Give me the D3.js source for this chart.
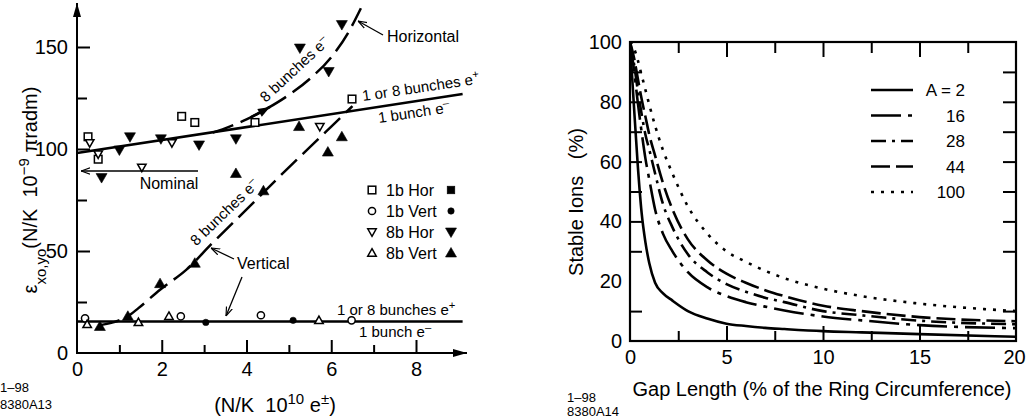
<!DOCTYPE html>
<html lang="en">
<head>
<meta charset="UTF-8">
<title>Emittance vs bunch current / Stable ions vs gap length</title>
<script src="https://d3js.org/d3.v7.min.js"></script>
<style>
  body { margin: 0; background: #fff; }
  svg { display: block; font-family: "Liberation Sans", Arial, sans-serif; }
  text { fill: #000; white-space: pre; }
  .tick line { stroke: #000; stroke-width: 2; }
  .tick text { font-size: 20px; }
</style>
</head>
<body>
<svg id="chart" width="1026" height="419"></svg>
<script>
// ---------- left panel: emittance vs N/K ----------
const emitXTicks = [0, 1, 2, 3, 4, 5, 6, 7, 8];
const emitYTicks = [0, 25, 50, 75, 100, 125, 150];

// measured points [N/K, emittance]
const hor1bOpen   = [[0.26, 106], [0.5, 95], [2.47, 116], [2.78, 113], [4.2, 113], [6.49, 124.5]];
const vert1bOpen  = [[0.19, 17], [2.45, 18], [4.34, 18.5], [6.48, 16]];
const vert1bFill  = [[3.04, 15], [5.1, 16]];
const hor8bOpen   = [[0.3, 103], [0.5, 97.5], [1.53, 91], [2.24, 103], [5.73, 111]];
const hor8bFill   = [[0.58, 86], [1.0, 99.5], [1.25, 106], [1.98, 105], [2.88, 102], [3.75, 105], [5.26, 149.5], [5.94, 138], [6.25, 161]];
const vert8bOpen  = [[0.24, 14], [1.45, 15], [2.17, 18], [5.71, 16]];
const vert8bFill  = [[0.54, 13], [1.2, 18], [1.96, 34], [2.78, 44], [3.75, 88], [4.4, 79.5], [5.24, 111], [5.92, 98.5], [6.25, 106]];

// fitted lines
const hor1Line  = [[0, 98], [9.1, 127]];
const vert1Line = [[0, 15.5], [9.1, 15.5]];
const hor8Curve = [[3.2, 108], [3.6, 111], [4.0, 114.5], [4.5, 120], [5.0, 126.5], [5.5, 134.5], [6.0, 145], [6.4, 157], [6.7, 169]];
const vert8Curve = [[0.5, 13.5], [0.85, 15], [1.2, 18], [1.45, 22], [1.96, 31], [2.59, 41], [3.2, 54], [4.08, 72], [5.0, 91], [5.9, 109], [6.5, 121]];
const hor8ArrowAt = 4.55;

const legendLeft = ["1b Hor", "1b Vert", "8b Hor", "8b Vert"];
const legendShapes = ["square", "circle", "down", "up"];

// ---------- right panel: stable ions vs gap length ----------
const gapX = [0, 0.2, 0.4, 0.6, 0.8, 1, 1.3, 1.7, 2.2, 3, 4, 5, 6, 7, 8, 10, 12, 15, 20];
const ionsA2   = [100, 79, 59, 43, 33, 26, 19.5, 16, 13.5, 10, 7.5, 5.8, 5, 4.4, 4, 3.3, 2.9, 2.3, 1.4];
const ionsA16  = [100, 91, 80, 70, 61, 54, 44, 36, 30, 23, 18, 15, 13, 11.5, 10.2, 8.2, 6.9, 5.3, 4.3];
const ionsA28  = [100, 93, 84, 76, 69, 64, 56, 46, 38, 29, 23, 19, 16.5, 14.5, 13, 10, 8.6, 6.8, 5.6];
const ionsA44  = [100, 95, 88, 81, 75, 69, 62, 53, 44, 34, 27, 22.5, 19.5, 17, 15, 11.8, 10, 8, 6.6];
const ionsA100 = [100, 98, 94, 89, 84, 79, 72, 64, 56, 45, 36, 30, 26.5, 23.5, 21, 17.5, 15, 12.5, 10];
const ionSeries = [ionsA2, ionsA16, ionsA28, ionsA44, ionsA100];
const ionLabels = ["A = 2", "16", "28", "44", "100"];
const ionDashes = [null, "30,7,4,7", "15,6,3,6", "19,6", "3,7"];
const gapTicks = [0, 2.5, 5, 7.5, 10, 12.5, 15, 17.5, 20];
const ionTicks = [0, 10, 20, 30, 40, 50, 60, 70, 80, 90, 100];

const svg = d3.select("#chart");

const defs = svg.append("defs");
defs.append("marker").attr("id", "axisArrow")
  .attr("viewBox", "0 0 14 10").attr("refX", 14).attr("refY", 5)
  .attr("markerWidth", 14).attr("markerHeight", 10)
  .attr("markerUnits", "userSpaceOnUse").attr("orient", "auto")
  .append("path").attr("d", "M0,1 L14,5 L0,9 Z").attr("fill", "#000");
defs.append("marker").attr("id", "thinArrow")
  .attr("viewBox", "0 0 10 10").attr("refX", 10).attr("refY", 5)
  .attr("markerWidth", 9).attr("markerHeight", 9)
  .attr("markerUnits", "userSpaceOnUse").attr("orient", "auto")
  .append("path").attr("d", "M0,1.5 L10,5 L0,8.5").attr("fill", "none").attr("stroke", "#000").attr("stroke-width", 1.3);

// ================= LEFT =================
const xL = d3.scaleLinear().domain([0, 8]).range([77, 416]);
const yL = d3.scaleLinear().domain([0, 150]).range([353, 47]);
const left = svg.append("g");

const gxL = left.append("g").attr("transform", `translate(0,${yL(0)})`)
  .call(d3.axisBottom(xL).tickValues(emitXTicks).tickSize(-13).tickPadding(9)
    .tickFormat(d => d % 2 === 0 ? d : ""));
gxL.select(".domain").remove();
gxL.selectAll(".tick line").attr("y2", d => d % 2 === 0 ? -13 : -8);
gxL.selectAll(".tick").filter(d => d === 0).select("line").remove();

const gyL = left.append("g").attr("transform", `translate(${xL(0)},0)`)
  .call(d3.axisLeft(yL).tickValues(emitYTicks).tickSize(-13).tickPadding(9)
    .tickFormat(d => d % 50 === 0 ? d : ""));
gyL.select(".domain").remove();
gyL.selectAll(".tick line").attr("x2", d => d % 50 === 0 ? 13 : 10);
gyL.selectAll(".tick").filter(d => d === 0).select("line").remove();
[gxL, gyL].forEach(g => g.attr("font-size", null).attr("font-family", null));

// axis lines with arrows
left.append("line").attr("x1", xL(0)).attr("y1", yL(0)).attr("x2", xL(0)).attr("y2", 3)
  .attr("stroke", "#000").attr("stroke-width", 2).attr("marker-end", "url(#axisArrow)");
left.append("line").attr("x1", xL(0) - 1).attr("y1", yL(0)).attr("x2", 467).attr("y2", yL(0))
  .attr("stroke", "#000").attr("stroke-width", 2).attr("marker-end", "url(#axisArrow)");

const lineL = d3.line().x(d => xL(d[0])).y(d => yL(d[1]));
const curveL = d3.line().x(d => xL(d[0])).y(d => yL(d[1])).curve(d3.curveMonotoneX);

left.append("path").attr("d", lineL(hor1Line)).attr("fill", "none").attr("stroke", "#000").attr("stroke-width", 2.5);
left.append("path").attr("d", lineL(vert1Line)).attr("fill", "none").attr("stroke", "#000").attr("stroke-width", 2.5);
const hor8Path = left.append("path").attr("d", curveL(hor8Curve)).attr("fill", "none")
  .attr("stroke", "#000").attr("stroke-width", 2.5).attr("stroke-dasharray", "22,8");
left.append("path").attr("d", curveL(vert8Curve)).attr("fill", "none")
  .attr("stroke", "#000").attr("stroke-width", 2.5).attr("stroke-dasharray", "22,8");

// arrowhead on the horizontal 8-bunch curve
(function () {
  const node = hor8Path.node(), total = node.getTotalLength();
  const tx = xL(hor8ArrowAt);
  let best = 0;
  for (let s = 0; s <= total; s += 0.5) {
    if (Math.abs(node.getPointAtLength(s).x - tx) < Math.abs(node.getPointAtLength(best).x - tx)) best = s;
  }
  const p = node.getPointAtLength(best), q = node.getPointAtLength(best - 2);
  const ang = Math.atan2(p.y - q.y, p.x - q.x) * 180 / Math.PI;
  left.append("path").attr("d", "M0,0 L-12,-4.5 L-12,4.5 Z")
    .attr("transform", `translate(${p.x},${p.y}) rotate(${ang})`).attr("fill", "#000");
  left.append("line").attr("x1", p.x).attr("y1", p.y)
    .attr("x2", node.getPointAtLength(best - 22).x).attr("y2", node.getPointAtLength(best - 22).y)
    .attr("stroke", "#000").attr("stroke-width", 2.5);
})();

// symbols
const triUp = (w, h) => `M0,${-h * 0.58} L${w / 2},${h * 0.42} L${-w / 2},${h * 0.42} Z`;
const triDown = (w, h) => `M0,${h * 0.58} L${w / 2},${-h * 0.42} L${-w / 2},${-h * 0.42} Z`;
function drawSym(g, x, y, shape, filled) {
  const fill = filled ? "#000" : "#fff";
  const sw = filled ? 0.6 : 1.5;
  if (shape === "square") {
    g.append("rect").attr("x", x - 3.8).attr("y", y - 3.8).attr("width", 7.6).attr("height", 7.6)
      .attr("fill", fill).attr("stroke", "#000").attr("stroke-width", sw);
  } else if (shape === "circle") {
    g.append("circle").attr("cx", x).attr("cy", y).attr("r", filled ? 3.2 : 3.6)
      .attr("fill", fill).attr("stroke", "#000").attr("stroke-width", sw);
  } else {
    const w = filled ? 11 : 8.5, h = filled ? 9.5 : 7.5;
    g.append("path").attr("d", shape === "up" ? triUp(w, h) : triDown(w, h))
      .attr("transform", `translate(${x},${y})`)
      .attr("fill", fill).attr("stroke", "#000").attr("stroke-width", sw);
  }
}
const pts = left.append("g");
hor1bOpen.forEach(d => drawSym(pts, xL(d[0]), yL(d[1]), "square", false));
vert1bOpen.forEach(d => drawSym(pts, xL(d[0]), yL(d[1]), "circle", false));
vert1bFill.forEach(d => drawSym(pts, xL(d[0]), yL(d[1]), "circle", true));
hor8bOpen.forEach(d => drawSym(pts, xL(d[0]), yL(d[1]), "down", false));
hor8bFill.forEach(d => drawSym(pts, xL(d[0]), yL(d[1]), "down", true));
vert8bOpen.forEach(d => drawSym(pts, xL(d[0]), yL(d[1]), "up", false));
vert8bFill.forEach(d => drawSym(pts, xL(d[0]), yL(d[1]), "up", true));

// legend (left)
const legL = left.append("g");
legendLeft.forEach((t, i) => {
  const y = 190 + i * 21;
  drawSym(legL, 372, y, legendShapes[i], false);
  drawSym(legL, 451, y, legendShapes[i], true);
  legL.append("text").attr("x", 386).attr("y", y + 6).attr("font-size", 16).text(t);
});

// annotations
function label(g, x, y, size, parts, rot) {
  const t = g.append("text").attr("x", x).attr("y", y).attr("font-size", size);
  if (rot) t.attr("transform", `rotate(${rot},${x},${y})`);
  parts.forEach(p => {
    const s = t.append("tspan").text(p[0]);
    if (p[1] === "sup") s.attr("baseline-shift", "super").attr("font-size", size * 0.75);
    if (p[1] === "sub") s.attr("baseline-shift", "sub").attr("font-size", size * 0.75);
  });
  return t;
}
const ann = left.append("g");
label(ann, 387, 42, 16, [["Horizontal"]]);
ann.append("line").attr("x1", 383).attr("y1", 35).attr("x2", 358).attr("y2", 21)
  .attr("stroke", "#000").attr("stroke-width", 1.3).attr("marker-end", "url(#thinArrow)");
label(ann, 298, 73, 15, [["8 bunches e"], ["–", "sup"]], -43).attr("text-anchor", "middle");
label(ann, 363, 101, 15, [["1 or 8 bunches e"], ["+", "sup"]], -8.5);
label(ann, 379, 123, 15, [["1 bunch e"], ["–", "sup"]], -8.5);
label(ann, 169, 189, 16, [["Nominal"]]).attr("text-anchor", "middle");
ann.append("line").attr("x1", 198).attr("y1", 171).attr("x2", 81).attr("y2", 171)
  .attr("stroke", "#000").attr("stroke-width", 1.3).attr("marker-end", "url(#thinArrow)");
label(ann, 228, 216, 15, [["8 bunches e"], ["–", "sup"]], -44).attr("text-anchor", "middle");
label(ann, 237, 269, 16, [["Vertical"]]);
ann.append("line").attr("x1", 234).attr("y1", 259).attr("x2", 211).attr("y2", 248)
  .attr("stroke", "#000").attr("stroke-width", 1.3).attr("marker-end", "url(#thinArrow)");
ann.append("line").attr("x1", 242).attr("y1", 277).attr("x2", 226).attr("y2", 316)
  .attr("stroke", "#000").attr("stroke-width", 1.3).attr("marker-end", "url(#thinArrow)");
label(ann, 337, 315, 15, [["1 or 8 bunches e"], ["+", "sup"]]);
label(ann, 359, 337, 15, [["1 bunch e"], ["–", "sup"]]);

// axis titles
label(left, 37, 190, 20, [["ε"], ["xo,yo", "sub"], ["(N/K  10"], ["−9", "sup"], [" πradm)"]], -90)
  .attr("text-anchor", "middle");
label(left, 275, 412, 20, [["(N/K  10"], ["10", "sup"], [" e"], ["±", "sup"], [")"]]).attr("text-anchor", "middle");
label(left, 0, 392, 13, [["1–98"]]);
label(left, 0, 409, 13, [["8380A13"]]);

// ================= RIGHT =================
const xR = d3.scaleLinear().domain([0, 20]).range([630, 1016]);
const yR = d3.scaleLinear().domain([0, 100]).range([341, 42]);
const right = svg.append("g");

const clip = defs.append("clipPath").attr("id", "clipR");
clip.append("rect").attr("x", xR(0)).attr("y", yR(100)).attr("width", xR(20) - xR(0)).attr("height", yR(0) - yR(100));

const gB = right.append("g").attr("transform", `translate(0,${yR(0)})`)
  .call(d3.axisBottom(xR).tickValues(gapTicks).tickSize(-15).tickPadding(9)
    .tickFormat(d => d % 5 === 0 ? d : ""));
gB.selectAll(".tick line").attr("y2", d => d % 5 === 0 ? -15 : -10);
// last label sits on the page edge: keep it just inside
gB.selectAll(".tick").filter(d => d === 20).select("text").attr("dx", -2);
const gT = right.append("g").attr("transform", `translate(0,${yR(100)})`)
  .call(d3.axisTop(xR).tickValues(gapTicks).tickSize(-15).tickFormat(""));
gT.selectAll(".tick line").attr("y2", d => d % 5 === 0 ? 15 : 11);
const gLft = right.append("g").attr("transform", `translate(${xR(0)},0)`)
  .call(d3.axisLeft(yR).tickValues(ionTicks).tickSize(-12).tickPadding(8)
    .tickFormat(d => d % 20 === 0 ? d : ""));
const gRgt = right.append("g").attr("transform", `translate(${xR(20)},0)`)
  .call(d3.axisRight(yR).tickValues(ionTicks).tickSize(-13).tickFormat(""));
[gB, gT, gLft, gRgt].forEach(g => {
  g.attr("font-size", null).attr("font-family", null);
  g.select(".domain").remove();
  g.selectAll(".tick").filter(d => d === 0 || d === 20 || d === 100).select("line").remove();
});
right.append("rect").attr("x", xR(0)).attr("y", yR(100)).attr("width", xR(20) - xR(0))
  .attr("height", yR(0) - yR(100)).attr("fill", "none").attr("stroke", "#000").attr("stroke-width", 2.2);

const lineR = d3.line().x((d, i) => xR(gapX[i])).y(d => yR(d)).curve(d3.curveMonotoneX);
const curves = right.append("g").attr("clip-path", "url(#clipR)");
ionSeries.forEach((s, i) => {
  curves.append("path").attr("d", lineR(s)).attr("fill", "none").attr("stroke", "#000")
    .attr("stroke-width", 2.6).attr("stroke-dasharray", ionDashes[i]);
});

// legend (right)
const legR = right.append("g");
ionLabels.forEach((t, i) => {
  const y = 90 + i * 25.5;
  legR.append("line").attr("x1", 871).attr("x2", 913).attr("y1", y).attr("y2", y)
    .attr("stroke", "#000").attr("stroke-width", 2.6).attr("stroke-dasharray", ionDashes[i]);
  legR.append("text").attr("x", 965).attr("y", y + 6).attr("font-size", 17)
    .attr("text-anchor", "end").text(t);
});

label(right, 583, 202, 20, [["Stable Ions   (%)"]], -90).attr("text-anchor", "middle");
label(right, 822, 396, 20, [["Gap Length (% of the Ring Circumference)"]]).attr("text-anchor", "middle");
label(right, 567, 402, 13, [["1–98"]]);
label(right, 567, 416, 13, [["8380A14"]]);
</script>
</body>
</html>
